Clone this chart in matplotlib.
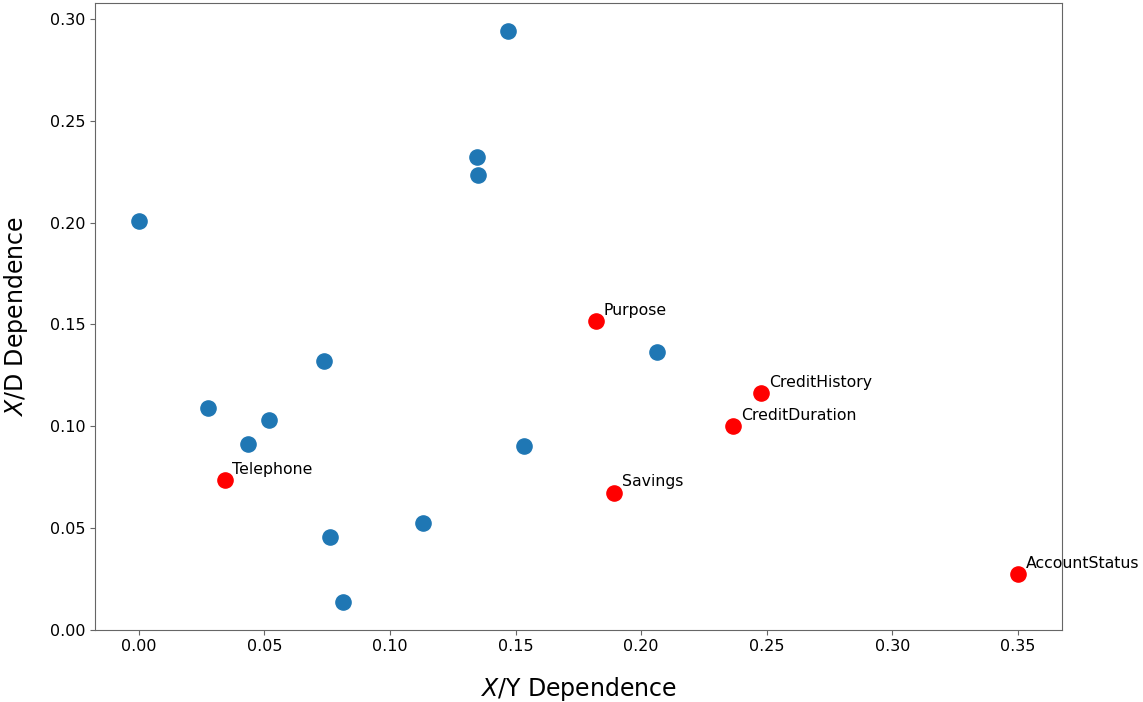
import numpy as np
import matplotlib
matplotlib.use("Agg")
import matplotlib.pyplot as plt

# other features (blue)
xy_dep = [0.000, 0.1470, 0.1346, 0.1350, 0.0736, 0.0274, 0.0517, 0.0434,
          0.1534, 0.2064, 0.1131, 0.0760, 0.0812]
xd_dep = [0.2008, 0.2941, 0.2322, 0.2232, 0.1321, 0.1090, 0.1031, 0.0913,
          0.0903, 0.1365, 0.0525, 0.0457, 0.0137]

# highlighted features (red)
names = ['Purpose', 'CreditHistory', 'CreditDuration', 'Telephone', 'Savings', 'AccountStatus']
hi_xy = [0.1821, 0.2478, 0.2367, 0.0342, 0.1893, 0.3502]
hi_xd = [0.1517, 0.1164, 0.1002, 0.0736, 0.0673, 0.0272]

fig = plt.figure(figsize=(11.43, 7.02), dpi=100)
ax = fig.add_axes([0.083, 0.103, 0.846, 0.893])

ax.scatter(xy_dep, xd_dep, s=120, color='tab:blue', zorder=3)
ax.scatter(hi_xy, hi_xd, s=120, color='red', zorder=3)
for n, x, y in zip(names, hi_xy, hi_xd):
    ax.annotate(n, (x, y), xytext=(5.5, 4.5), textcoords='offset points', fontsize=11.3)

ax.set_xlim(-0.0175, 0.3675)
ax.set_ylim(0, 0.308)
ax.set_xlabel('$X$/Y Dependence', fontsize=17, labelpad=15)
ax.set_ylabel('$X$/D Dependence', fontsize=17, labelpad=14)
ax.tick_params(labelsize=11.5, color='0.4')
for sp in ax.spines.values():
    sp.set_color('0.4')

fig.savefig('out.png', dpi=100)
